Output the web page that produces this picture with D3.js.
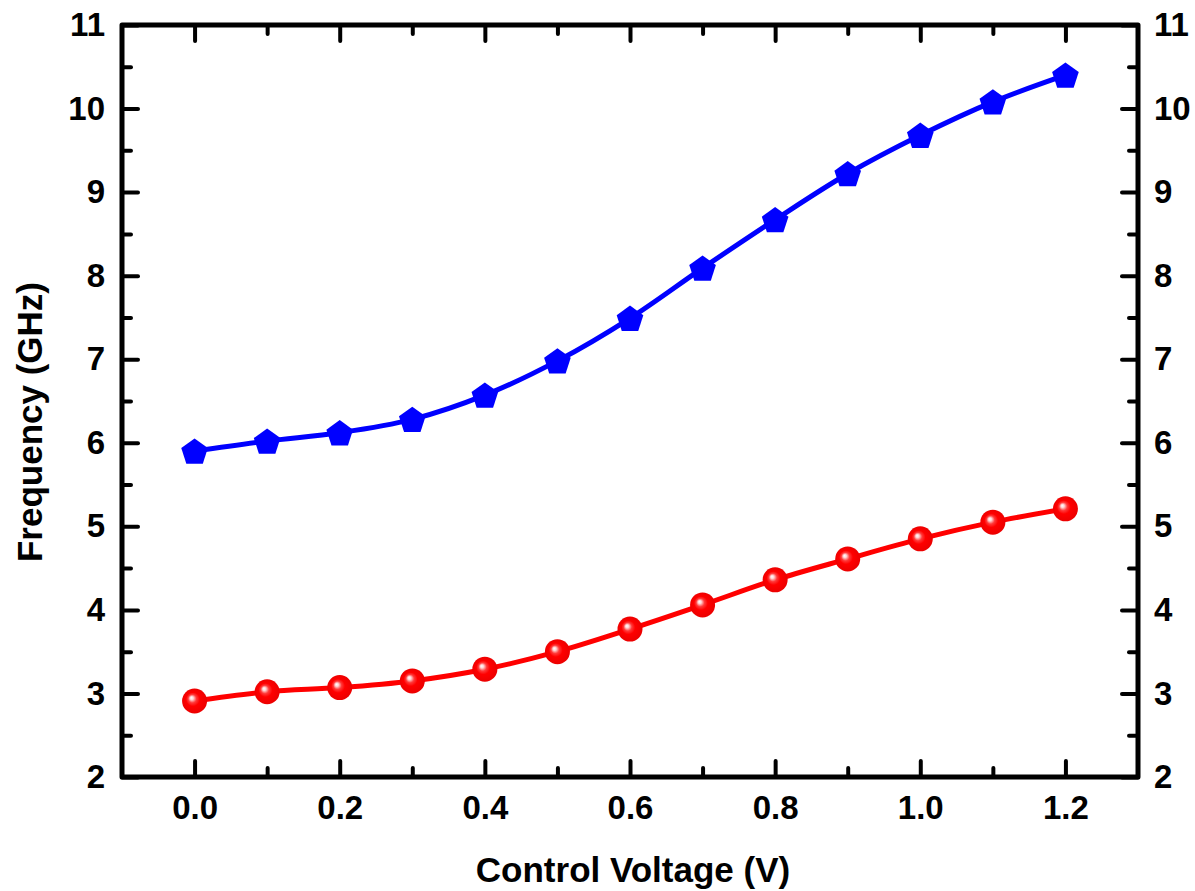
<!DOCTYPE html>
<html>
<head>
<meta charset="utf-8">
<script src="https://cdn.jsdelivr.net/npm/d3@7"></script>
<style>
  html, body { margin: 0; padding: 0; background: #fff; }
  svg { display: block; }
  text { font-family: "Liberation Sans", Arial, sans-serif; font-weight: bold; fill: #000; }
</style>
</head>
<body>
<svg id="chart" width="1195" height="891"></svg>
<script>
// Control voltage sweep (V)
const voltages = [0.0, 0.1, 0.2, 0.3, 0.4, 0.5, 0.6, 0.7, 0.8, 0.9, 1.0, 1.1, 1.2];
// Upper oscillator band (GHz)
const freqHigh = [5.90, 6.02, 6.12, 6.28, 6.57, 6.98, 7.49, 8.09, 8.67, 9.22, 9.68, 10.08, 10.40];
// Lower oscillator band (GHz)
const freqLow = [2.91, 3.02, 3.07, 3.15, 3.29, 3.50, 3.77, 4.06, 4.36, 4.61, 4.85, 5.05, 5.21];

const xMajorTicks = [0.0, 0.2, 0.4, 0.6, 0.8, 1.0, 1.2];
const xMinorTicks = [0.1, 0.3, 0.5, 0.7, 0.9, 1.1];
const yMajorTicks = [2, 3, 4, 5, 6, 7, 8, 9, 10, 11];
const yMinorTicks = [2.5, 3.5, 4.5, 5.5, 6.5, 7.5, 8.5, 9.5, 10.5];

const svg = d3.select("#chart");
const plotL = 122, plotR = 1138, plotT = 25, plotB = 777;

const x = d3.scaleLinear().domain([-0.1, 1.3]).range([plotL, plotR]);
const y = d3.scaleLinear().domain([2, 11]).range([plotB, plotT]);

// gradient for the shaded sphere markers
const defs = svg.append("defs");
const grad = defs.append("radialGradient")
  .attr("id", "sphere")
  .attr("cx", "0.5").attr("cy", "0.5").attr("r", "0.55")
  .attr("fx", "0.37").attr("fy", "0.37");
[[0, "#ffffff"], [0.12, "#ffd6d6"], [0.3, "#ff3a3a"], [0.5, "#ff0000"], [1, "#e80000"]]
  .forEach(([o, c]) => grad.append("stop").attr("offset", o).attr("stop-color", c));

const majorLen = 16, minorLen = 9;
const tickStyle = g => g.attr("stroke", "#000").attr("stroke-width", 4).attr("stroke-linecap", "round");

// bottom / top ticks (pointing inward)
const xb = svg.append("g").attr("transform", `translate(0,${plotB})`)
  .call(d3.axisBottom(x).tickValues(xMajorTicks).tickSize(-majorLen).tickPadding(19).tickFormat(d3.format(".1f")));
const xbm = svg.append("g").attr("transform", `translate(0,${plotB})`)
  .call(d3.axisBottom(x).tickValues(xMinorTicks).tickSize(-minorLen).tickFormat(""));
const xt = svg.append("g").attr("transform", `translate(0,${plotT})`)
  .call(d3.axisTop(x).tickValues(xMajorTicks).tickSize(-majorLen).tickFormat(""));
const xtm = svg.append("g").attr("transform", `translate(0,${plotT})`)
  .call(d3.axisTop(x).tickValues(xMinorTicks).tickSize(-minorLen).tickFormat(""));

// left / right ticks with labels on both sides
const yl = svg.append("g").attr("transform", `translate(${plotL},0)`)
  .call(d3.axisLeft(y).tickValues(yMajorTicks).tickSize(-majorLen).tickPadding(17).tickFormat(d3.format("d")));
const ylm = svg.append("g").attr("transform", `translate(${plotL},0)`)
  .call(d3.axisLeft(y).tickValues(yMinorTicks).tickSize(-minorLen).tickFormat(""));
const yr = svg.append("g").attr("transform", `translate(${plotR},0)`)
  .call(d3.axisRight(y).tickValues(yMajorTicks).tickSize(-majorLen).tickPadding(16).tickFormat(d3.format("d")));
const yrm = svg.append("g").attr("transform", `translate(${plotR},0)`)
  .call(d3.axisRight(y).tickValues(yMinorTicks).tickSize(-minorLen).tickFormat(""));

[xb, xbm, xt, xtm, yl, ylm, yr, yrm].forEach(g => {
  g.select(".domain").remove();
  g.selectAll(".tick line").call(tickStyle);
  g.selectAll(".tick text")
    .style("font-size", "33px")
    .style("font-family", "'Liberation Sans', Arial, sans-serif")
    .style("font-weight", "bold")
    .attr("fill", "#000");
});

// frame
svg.append("rect")
  .attr("x", plotL).attr("y", plotT)
  .attr("width", plotR - plotL).attr("height", plotB - plotT)
  .attr("fill", "none").attr("stroke", "#000").attr("stroke-width", 5)
  .attr("stroke-linejoin", "round");

// axis titles
svg.append("text")
  .attr("x", (plotL + plotR) / 2 + 3).attr("y", 882)
  .attr("text-anchor", "middle")
  .style("font-size", "35px")
  .text("Control Voltage (V)");

svg.append("text")
  .attr("transform", `translate(42,422) rotate(-90)`)
  .attr("text-anchor", "middle")
  .style("font-size", "35px")
  .text("Frequency (GHz)");

// curves
const line = d3.line()
  .x((d, i) => x(voltages[i]))
  .y(d => y(d))
  .curve(d3.curveCatmullRom.alpha(0.5));

svg.append("path").datum(freqHigh)
  .attr("d", line).attr("fill", "none")
  .attr("stroke", "#0000ff").attr("stroke-width", 5);
svg.append("path").datum(freqLow)
  .attr("d", line).attr("fill", "none")
  .attr("stroke", "#ff0000").attr("stroke-width", 5);

// pentagon markers
const R = 14;
const pentagon = d3.range(5).map(k => {
  const a = -Math.PI / 2 + k * 2 * Math.PI / 5;
  return [R * Math.cos(a), R * Math.sin(a) + 1.3];
});
svg.append("g").selectAll("path").data(freqHigh).join("path")
  .attr("transform", (d, i) => `translate(${x(voltages[i])},${y(d)})`)
  .attr("d", "M" + pentagon.map(p => p.join(",")).join("L") + "Z")
  .attr("fill", "#0000ff");

// sphere markers
svg.append("g").selectAll("circle").data(freqLow).join("circle")
  .attr("cx", (d, i) => x(voltages[i]))
  .attr("cy", d => y(d))
  .attr("r", 12.5)
  .attr("fill", "url(#sphere)");
</script>
</body>
</html>
